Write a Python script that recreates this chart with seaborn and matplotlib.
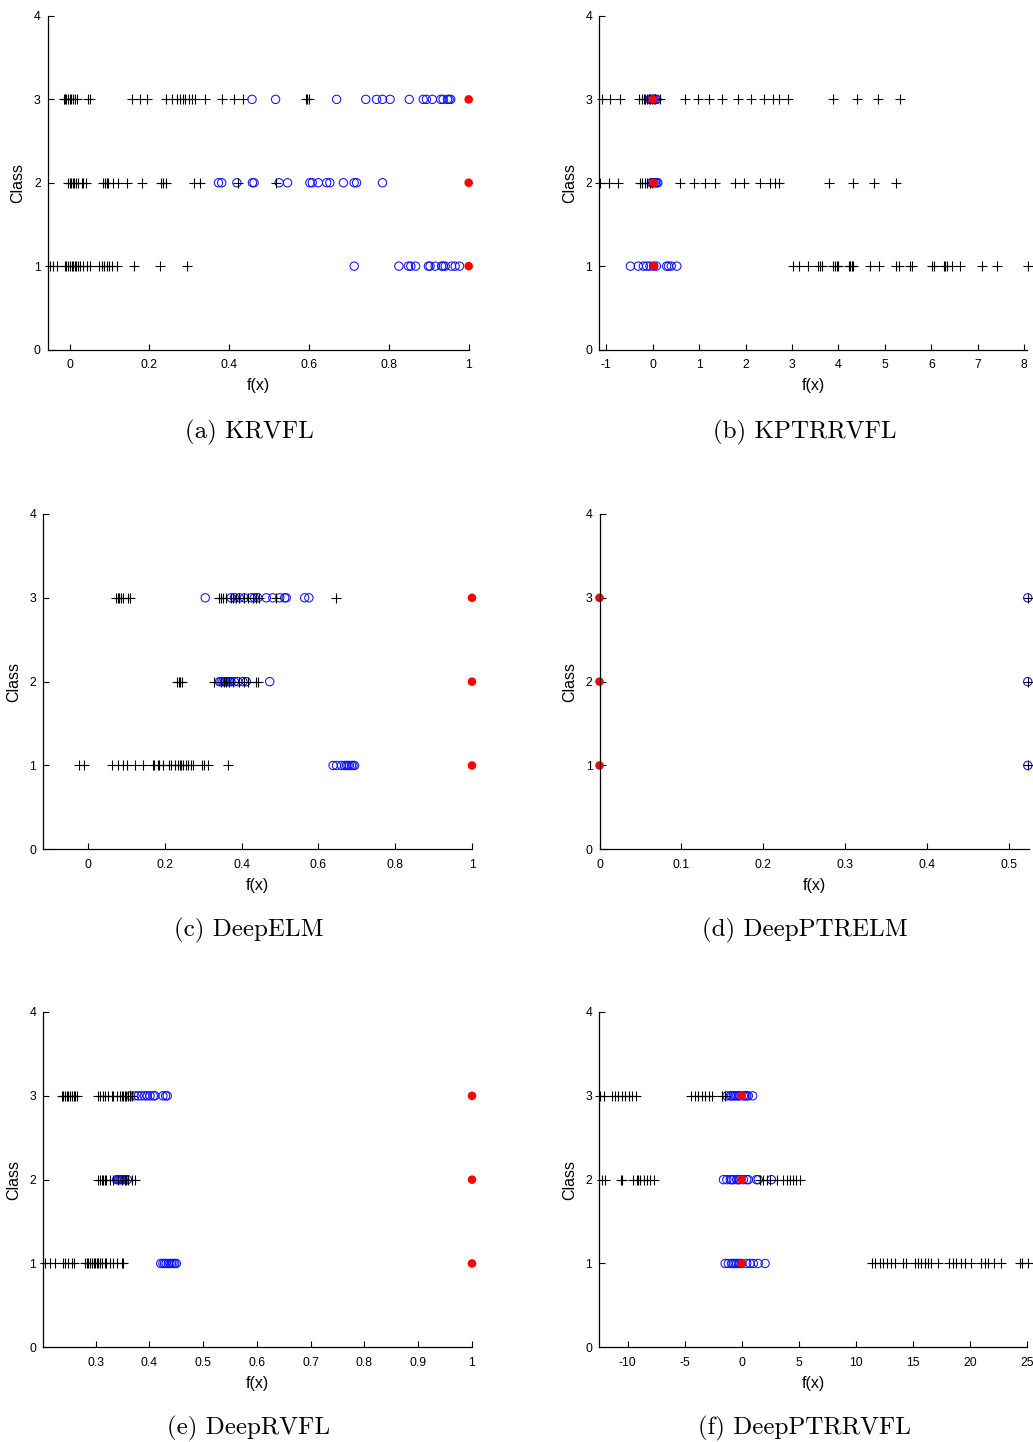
import numpy as np
import pandas as pd
import matplotlib
matplotlib.use("Agg")
import matplotlib.pyplot as plt
from matplotlib.ticker import FormatStrFormatter
import seaborn as sns

# ---------------- data ----------------
classes = [1, 2, 3]

# (a) KRVFL
krvfl_other_c1 = [-0.049, -0.041, -0.033, -0.012, -0.008, -0.004, 0.0, 0.005, 0.009, 0.013, 0.017, 0.022, 0.026,
                  0.034, 0.044, 0.051, 0.074, 0.080, 0.086, 0.093, 0.099, 0.105, 0.118, 0.160, 0.226, 0.293]
krvfl_own_c1 = [0.713, 0.825, 0.849, 0.855, 0.867, 0.899, 0.903, 0.916, 0.932, 0.936, 0.941, 0.957, 0.966, 0.977]
krvfl_other_c2 = [-0.003, 0.001, 0.004, 0.008, 0.011, 0.016, 0.022, 0.030, 0.034, 0.041, 0.083, 0.089, 0.093,
                  0.097, 0.108, 0.122, 0.143, 0.18, 0.229, 0.235, 0.241, 0.312, 0.327, 0.423, 0.517]
krvfl_own_c2 = [0.373, 0.381, 0.419, 0.458, 0.462, 0.525, 0.546, 0.602, 0.608, 0.623, 0.644, 0.652, 0.686,
                0.713, 0.719, 0.784]
krvfl_other_c3 = [-0.014, -0.011, -0.008, -0.004, 0.0, 0.003, 0.008, 0.013, 0.019, 0.045, 0.051, 0.155, 0.175,
                  0.193, 0.241, 0.256, 0.268, 0.277, 0.283, 0.29, 0.298, 0.307, 0.315, 0.339, 0.381, 0.413, 0.434,
                  0.592, 0.596, 0.599]
krvfl_own_c3 = [0.457, 0.516, 0.669, 0.742, 0.769, 0.784, 0.803, 0.851, 0.886, 0.894, 0.909, 0.930, 0.936,
                0.947, 0.951, 0.955]
krvfl_target = [1.0, 1.0, 1.0]

# (b) KPTRRVFL
kptr_other_c1 = [3.03, 3.14, 3.35, 3.57, 3.61, 3.64, 3.89, 3.93, 3.96, 4.00, 4.22, 4.25, 4.29, 4.32, 4.68, 4.87,
                 5.23, 5.30, 5.55, 5.58, 6.01, 6.05, 6.27, 6.30, 6.34, 6.44, 6.62, 7.09, 7.41, 8.09]
kptr_own_c1 = [-0.48, -0.31, -0.20, -0.13, -0.06, 0.02, 0.08, 0.30, 0.34, 0.40, 0.52]
kptr_other_c2 = [-1.14, -0.95, -0.74, -0.27, -0.22, -0.17, -0.12, -0.06, -0.01, 0.58, 0.88, 1.13, 1.35, 1.78,
                 1.97, 2.32, 2.53, 2.63, 2.73, 3.79, 4.31, 4.77, 5.23]
kptr_own_c2 = [-0.03, 0.0, 0.03, 0.06, 0.09, 0.11]
kptr_other_c3 = [-1.10, -0.92, -0.70, -0.30, -0.23, -0.19, -0.16, -0.12, -0.09, -0.05, -0.02, 0.02, 0.05, 0.16,
                 0.70, 0.97, 1.22, 1.49, 1.84, 2.12, 2.40, 2.58, 2.73, 2.91, 3.88, 4.39, 4.86, 5.33]
kptr_own_c3 = [-0.06, -0.03, 0.0, 0.03, 0.06, 0.09]
kptr_target = [0.03, 0.01, 0.0]

# (c) DeepELM
delm_other_c1 = [-0.023, -0.010, 0.062, 0.077, 0.090, 0.100, 0.123, 0.142, 0.168, 0.172, 0.181, 0.185, 0.194,
                 0.211, 0.216, 0.225, 0.233, 0.238, 0.242, 0.248, 0.255, 0.259, 0.268, 0.272, 0.297, 0.303,
                 0.312, 0.364]
delm_own_c1 = [0.638, 0.647, 0.66, 0.668, 0.673, 0.677, 0.681, 0.686, 0.69, 0.694]
delm_other_c2 = [0.231, 0.236, 0.239, 0.245, 0.329, 0.346, 0.355, 0.359, 0.368, 0.377, 0.394, 0.407, 0.416,
                 0.438, 0.442]
delm_own_c2 = [0.342, 0.346, 0.351, 0.355, 0.359, 0.364, 0.368, 0.372, 0.381, 0.390, 0.403, 0.412, 0.473]
delm_other_c3 = [0.072, 0.077, 0.081, 0.085, 0.090, 0.103, 0.109, 0.342, 0.347, 0.351, 0.359, 0.372, 0.377,
                 0.386, 0.394, 0.407, 0.416, 0.429, 0.438, 0.446, 0.49, 0.645]
delm_own_c3 = [0.305, 0.372, 0.381, 0.394, 0.407, 0.425, 0.433, 0.442, 0.464, 0.481, 0.499, 0.512, 0.516,
               0.564, 0.575]
delm_target = [1.0, 1.0, 1.0]

# (d) DeepPTRELM
dptrelm_other_c1 = [0.5235]
dptrelm_own_c1 = [0.5235]
dptrelm_other_c2 = [0.5235]
dptrelm_own_c2 = [0.5235]
dptrelm_other_c3 = [0.5235]
dptrelm_own_c3 = [0.5235]
dptrelm_target = [0.0, 0.0, 0.0]

# (e) DeepRVFL
drvfl_other_c1 = [0.206, 0.215, 0.225, 0.240, 0.243, 0.249, 0.256, 0.259, 0.280, 0.283, 0.286, 0.290, 0.293,
                  0.296, 0.299, 0.302, 0.305, 0.308, 0.311, 0.317, 0.320, 0.327, 0.333, 0.339, 0.348, 0.351]
drvfl_own_c1 = [0.421, 0.425, 0.428, 0.431, 0.435, 0.438, 0.441, 0.444, 0.447, 0.450]
drvfl_other_c2 = [0.305, 0.308, 0.311, 0.314, 0.317, 0.320, 0.327, 0.333, 0.342, 0.348, 0.354, 0.357, 0.360,
                  0.367, 0.373]
drvfl_own_c2 = [0.339, 0.341, 0.343, 0.345, 0.347, 0.349, 0.351, 0.354, 0.359]
drvfl_other_c3 = [0.237, 0.240, 0.243, 0.246, 0.249, 0.252, 0.256, 0.259, 0.262, 0.265, 0.305, 0.308, 0.314,
                  0.317, 0.323, 0.330, 0.333, 0.339, 0.345, 0.348, 0.351, 0.354, 0.357, 0.360, 0.364, 0.367]
drvfl_own_c3 = [0.365, 0.373, 0.379, 0.385, 0.391, 0.396, 0.401, 0.407, 0.410, 0.425, 0.430, 0.433]
drvfl_target = [1.0, 1.0, 1.0]

# (f) DeepPTRRVFL
dptr_other_c1 = [11.4, 11.65, 12.1, 12.4, 12.7, 13.1, 13.4, 14.1, 14.4, 15.2, 15.45, 15.75, 16.05, 16.35, 16.6,
                 17.2, 18.2, 18.5, 18.8, 19.25, 19.55, 20.1, 21.0, 21.3, 21.6, 22.15, 22.75, 24.35, 24.6, 25.05]
dptr_own_c1 = [-1.45, -1.17, -0.88, -0.73, -0.58, -0.44, -0.29, -0.15, 0.0, 0.44, 0.73, 1.02, 1.45, 2.05]
dptr_other_c2 = [-12.25, -11.95, -10.6, -10.5, -9.5, -9.2, -9.05, -8.9, -8.6, -8.3, -8.0, -7.7, 1.6, 1.9, 2.2,
                 2.5, 3.1, 3.65, 3.95, 4.2, 4.5, 4.8, 5.1]
dptr_own_c2 = [-1.6, -1.3, -1.0, -0.88, -0.73, -0.44, -0.29, -0.15, 0.15, 0.44, 0.58, 1.3, 1.45, 2.6]
dptr_other_c3 = [-12.4, -12.1, -11.4, -11.1, -10.8, -10.5, -10.2, -9.9, -9.6, -9.3, -4.4, -4.1, -3.8, -3.5,
                 -3.2, -2.9, -2.6, -1.75, -1.45]
dptr_own_c3 = [-1.3, -1.0, -0.88, -0.73, -0.58, -0.44, -0.29, -0.15, 0.15, 0.29, 0.44, 0.58, 0.96]
dptr_target = [0.0, 0.0, 0.0]

captions = ["(a) KRVFL", "(b) KPTRRVFL", "(c) DeepELM", "(d) DeepPTRELM", "(e) DeepRVFL", "(f) DeepPTRRVFL"]
xticks_a = [0, 0.2, 0.4, 0.6, 0.8, 1]
xticks_b = [-1, 0, 1, 2, 3, 4, 5, 6, 7, 8]
xticks_c = [0, 0.2, 0.4, 0.6, 0.8, 1]
xticks_d = [0, 0.1, 0.2, 0.3, 0.4, 0.5]
xticks_e = [0.3, 0.4, 0.5, 0.6, 0.7, 0.8, 0.9, 1]
xticks_f = [-10, -5, 0, 5, 10, 15, 20, 25]
yticks = [0, 1, 2, 3, 4]


def long_frame(others, owns, target):
    rows = []
    for c, o, w, t in zip(classes, others, owns, target):
        rows += [("other", v, c) for v in o]
        rows += [("own", v, c) for v in w]
        rows.append(("target", t, c))
    return pd.DataFrame(rows, columns=["kind", "fx", "cls"])


panels = [
    (long_frame([krvfl_other_c1, krvfl_other_c2, krvfl_other_c3], [krvfl_own_c1, krvfl_own_c2, krvfl_own_c3], krvfl_target),
     xticks_a, (-0.0551, 1.0), (47.7, 468.7, 16, 349.5)),
    (long_frame([kptr_other_c1, kptr_other_c2, kptr_other_c3], [kptr_own_c1, kptr_own_c2, kptr_own_c3], kptr_target),
     xticks_b, (-1.15, 8.06), (599.3, 1027, 16, 349.5)),
    (long_frame([delm_other_c1, delm_other_c2, delm_other_c3], [delm_own_c1, delm_own_c2, delm_own_c3], delm_target),
     xticks_c, (-0.117, 1.0), (43.3, 472, 514, 849.3)),
    (long_frame([dptrelm_other_c1, dptrelm_other_c2, dptrelm_other_c3], [dptrelm_own_c1, dptrelm_own_c2, dptrelm_own_c3], dptrelm_target),
     xticks_d, (0.0, 0.525), (599.5, 1029, 514, 849.3)),
    (long_frame([drvfl_other_c1, drvfl_other_c2, drvfl_other_c3], [drvfl_own_c1, drvfl_own_c2, drvfl_own_c3], drvfl_target),
     xticks_e, (0.2025, 1.0), (43.3, 472, 1012, 1347.3)),
    (long_frame([dptr_other_c1, dptr_other_c2, dptr_other_c3], [dptr_own_c1, dptr_own_c2, dptr_own_c3], dptr_target),
     xticks_f, (-12.48, 25.03), (599.3, 1027.3, 1012, 1347.3)),
]
caption_pos = [(249, 432), (805, 432), (249, 930), (805, 930), (249, 1428), (805, 1428)]

# ---------------- style ----------------
sns.set_theme(style="ticks")
plt.rcParams["font.family"] = ["Liberation Sans", "DejaVu Sans"]
plt.rcParams["axes.unicode_minus"] = False
for k in ["text.color", "axes.labelcolor", "xtick.color", "ytick.color", "axes.edgecolor"]:
    plt.rcParams[k] = "black"

W, H = 1033, 1442
fig = plt.figure(figsize=(W / 100, H / 100), dpi=100)

for (df, xt, xl, box), cap, (cx, cy) in zip(panels, captions, caption_pos):
    l, r, t, b = box
    ax = fig.add_axes([l / W, 1 - b / H, (r - l) / W, (b - t) / H])
    own = df[df.kind == "own"]
    oth = df[df.kind == "other"]
    tgt = df[df.kind == "target"]
    sns.scatterplot(data=own, x="fx", y="cls", marker="o", s=36, facecolors="none",
                    edgecolor="#1010ff", linewidth=0.75, clip_on=False, ax=ax, legend=False)
    sns.scatterplot(data=oth, x="fx", y="cls", marker="+", s=42, color="black",
                    linewidth=0.8, clip_on=False, ax=ax, legend=False)
    sns.scatterplot(data=tgt, x="fx", y="cls", marker="o", s=38, color="red",
                    edgecolor="none", linewidth=0, clip_on=False, ax=ax, legend=False)
    ax.set_xlim(*xl)
    ax.set_ylim(0, 4)
    ax.set_xticks(xt)
    ax.set_yticks(yticks)
    ax.xaxis.set_major_formatter(FormatStrFormatter("%g"))
    ax.yaxis.set_major_formatter(FormatStrFormatter("%g"))
    sns.despine(ax=ax)
    for s in ["left", "bottom"]:
        ax.spines[s].set_linewidth(0.9)
        ax.spines[s].set_color("black")
    ax.tick_params(direction="in", length=4, width=0.8, labelsize=8.8)
    ax.tick_params(axis="x", pad=7)
    ax.tick_params(axis="y", pad=5)
    ax.set_xlabel("f(x)", fontsize=11.5, labelpad=5)
    ax.set_ylabel("Class", fontsize=11.5, labelpad=6)
    fig.text(cx / W, 1 - cy / H, cap, fontfamily="cmr10", fontsize=18, ha="center", va="center")

fig.savefig("out.png", dpi=100)
